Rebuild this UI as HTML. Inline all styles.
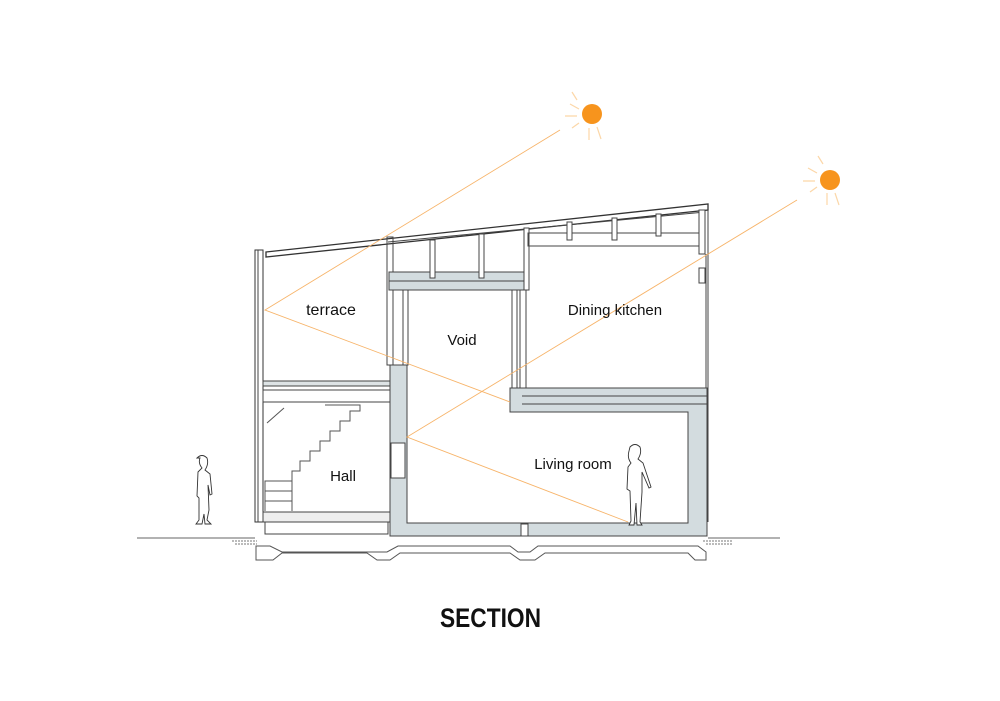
<!DOCTYPE html>
<html><head><meta charset="utf-8"><style>
html,body{margin:0;padding:0;background:#fff}
svg{display:block}
text{font-family:"Liberation Sans",sans-serif;fill:#111}
</style></head><body>
<svg width="1000" height="701" viewBox="0 0 1000 701" xmlns="http://www.w3.org/2000/svg">
<g fill="none" stroke="#444" stroke-width="1">
<!-- ground -->
<line x1="137" y1="538" x2="255" y2="538" stroke="#666"/>
<line x1="708" y1="538" x2="780" y2="538" stroke="#666"/>
<path d="M232 541 l25 0 M235 544 l22 0 M703 541 l30 0 M706 544 l26 0" stroke="#777" stroke-dasharray="2 1"/>
<!-- foundation -->
<path d="M256 546 H270 L282 552 H387 L398 546 H510 L518 552 H530 L538 546 H698 L706 552 V560 H695 L688 553 H545 L535 560 H520 L510 553 H400 L390 560 H377 L367 553 H282 L273 560 H256 Z" stroke="#555"/>
<!-- roof -->
<path d="M266 252 L708 204 L708 210 L266 257 Z" stroke="#333" stroke-width="1.3"/>
<line x1="388" y1="242" x2="705" y2="212"/>
<!-- left wall -->
<rect x="255" y="250" width="8" height="272" stroke="#333"/>
<line x1="258" y1="250" x2="258" y2="522"/>
<!-- terrace floor -->
<rect x="263" y="381" width="128" height="5" fill="#dde3e5"/>
<rect x="263" y="390" width="128" height="12" fill="#fff"/>
<!-- wall terrace/void -->
<rect x="387" y="237" width="6" height="128"/>
<!-- void upper slab -->
<rect x="389" y="272" width="139" height="18" fill="#d3dcdf"/>
<line x1="389" y1="281" x2="528" y2="281"/>
<rect x="430" y="240" width="5" height="38" fill="#fff"/>
<rect x="479" y="234" width="5" height="44" fill="#fff"/>
<rect x="524" y="228" width="5" height="62" fill="#fff"/>
<!-- void walls -->
<rect x="403" y="290" width="5" height="75"/>
<rect x="512" y="290" width="5" height="98"/>
<rect x="520" y="290" width="6" height="98"/>
<!-- dining upper beam -->
<rect x="528" y="233" width="175" height="13"/>
<rect x="567" y="222" width="5" height="18" fill="#fff"/>
<rect x="612" y="218" width="5" height="22" fill="#fff"/>
<rect x="656" y="214" width="5" height="22" fill="#fff"/>
<rect x="699" y="210" width="6" height="44" fill="#fff"/>
<rect x="699" y="268" width="6" height="15" fill="#fff"/>
<!-- dining right wall -->
<line x1="706" y1="254" x2="706" y2="522"/>
<line x1="708" y1="210" x2="708" y2="522"/>
<!-- living concrete box -->
<path d="M390 365 H407 V523 H688 V412 H510 V388 H707 V536 H390 Z" fill="#d3dcdf" stroke="#444"/>
<line x1="522" y1="396" x2="707" y2="396"/>
<line x1="522" y1="404" x2="707" y2="404"/>
<rect x="391" y="443" width="14" height="35" fill="#fff"/>
<rect x="521" y="524" width="7" height="12" fill="#fff"/>
<!-- hall floor -->
<rect x="263" y="512" width="127" height="10" fill="#eee"/>
<rect x="265" y="522" width="123" height="12" fill="#fff"/>
<!-- stairs -->
<path d="M265 511 V481 H292 V471 H300 V461 H310 V451 H320 V441 H330 V431 H340 V421 H350 V411 H360 V405 H325" stroke="#555"/>
<path d="M265 491 H292 M265 501 H292 M292 481 V511" stroke="#555"/>
<line x1="267" y1="423" x2="284" y2="408" stroke="#555"/>
</g>
<!-- suns -->
<g stroke="#fcd7a8" stroke-width="1.2" fill="none">
<path d="M572 92l5 8M570 104l9 5M565 116h12M572 128l7-5M589 128v12M597 127l4 12"/>
<path d="M818 156l5 8M808 168l9 5M803 181h12M810 192l7-5M827 193v12M835 193l4 12"/>
<path d="M560 130 L265 310 L510 402" stroke="#f7b46a" stroke-width="0.9"/>
<path d="M797 200 L407 437 L628 522" stroke="#f7b46a" stroke-width="0.9"/>
</g>
<circle cx="592" cy="114" r="10" fill="#f7941d"/>
<circle cx="830" cy="180" r="10" fill="#f7941d"/>
<!-- people -->
<g fill="#fff" stroke="#333" stroke-width="0.9">
<path d="M197 458 q5-5 10 0 q2 6-2 12 l5 4 l2 20 l-2 1 l-2 -10 l1 25 l-2 10 l4 4 l-6 0 l-1-10 l-2 10 l-6 0 l3-4 l0-22 l-2-2 l1-24 l4-4 q-4-5-2-10 z"/>
<path d="M630 447 q5-5 10 0 q2 6-2 12 l5 4 l8 24 l-2 1 l-7-16 l0 20 l-2 30 l2 3 l-5 0 l-1-22 l-2 22 l-5 0 l2-4 l-1-30 l-3-2 l1-22 l3-4 q-4-5-2-12 z"/>
</g>
<!-- labels -->
<text x="331" y="315" font-size="16" text-anchor="middle">terrace</text>
<text x="462" y="345" font-size="15" text-anchor="middle">Void</text>
<text x="615" y="315" font-size="15" text-anchor="middle">Dining kitchen</text>
<text x="343" y="481" font-size="15" text-anchor="middle">Hall</text>
<text x="573" y="469" font-size="15" text-anchor="middle">Living room</text>
<text x="440" y="627" font-size="27" font-weight="bold" textLength="101" lengthAdjust="spacingAndGlyphs">SECTION</text>
</svg>
</body></html>
